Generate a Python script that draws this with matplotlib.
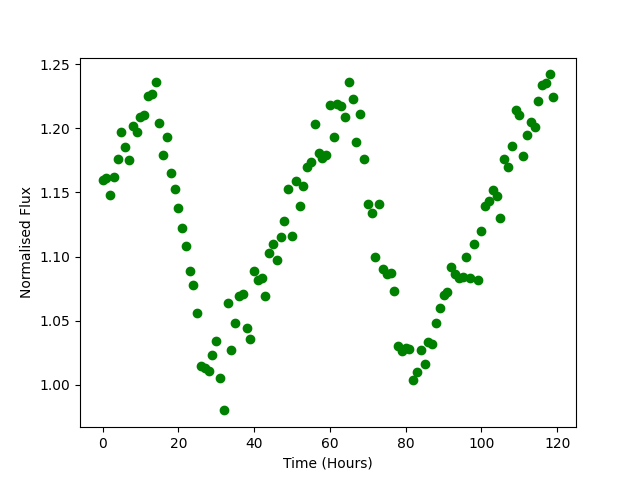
import numpy as np
import matplotlib
matplotlib.use('Agg')
import matplotlib.pyplot as plt

# Час спостережень (години)
time_hours = np.arange(120)

# Нормалізований потік
flux = [
    1.160, 1.161, 1.148, 1.162, 1.176, 1.197, 1.185, 1.175, 1.202, 1.197,
    1.209, 1.210, 1.225, 1.227, 1.236, 1.204, 1.179, 1.193, 1.165, 1.153,
    1.138, 1.122, 1.108, 1.089, 1.078, 1.056, 1.015, 1.013, 1.011, 1.023,
    1.034, 1.005, 0.980, 1.064, 1.027, 1.048, 1.069, 1.071, 1.044, 1.036,
    1.089, 1.082, 1.083, 1.069, 1.103, 1.110, 1.097, 1.115, 1.128, 1.153,
    1.116, 1.159, 1.139, 1.155, 1.170, 1.174, 1.203, 1.181, 1.177, 1.179,
    1.218, 1.193, 1.219, 1.217, 1.209, 1.236, 1.223, 1.189, 1.211, 1.176,
    1.141, 1.134, 1.100, 1.141, 1.090, 1.086, 1.087, 1.073, 1.030, 1.026,
    1.029, 1.028, 1.004, 1.010, 1.027, 1.016, 1.033, 1.032, 1.048, 1.060,
    1.070, 1.072, 1.092, 1.086, 1.083, 1.084, 1.100, 1.083, 1.110, 1.082,
    1.120, 1.139, 1.143, 1.152, 1.147, 1.130, 1.176, 1.170, 1.186, 1.214,
    1.210, 1.178, 1.195, 1.205, 1.201, 1.221, 1.234, 1.235, 1.242, 1.224,
]

plt.figure(figsize=(6.4, 4.8), dpi=100)
plt.plot(time_hours, flux, 'o', color='green')
plt.xlabel('Time (Hours)')
plt.ylabel('Normalised Flux')
plt.savefig('out.png')
